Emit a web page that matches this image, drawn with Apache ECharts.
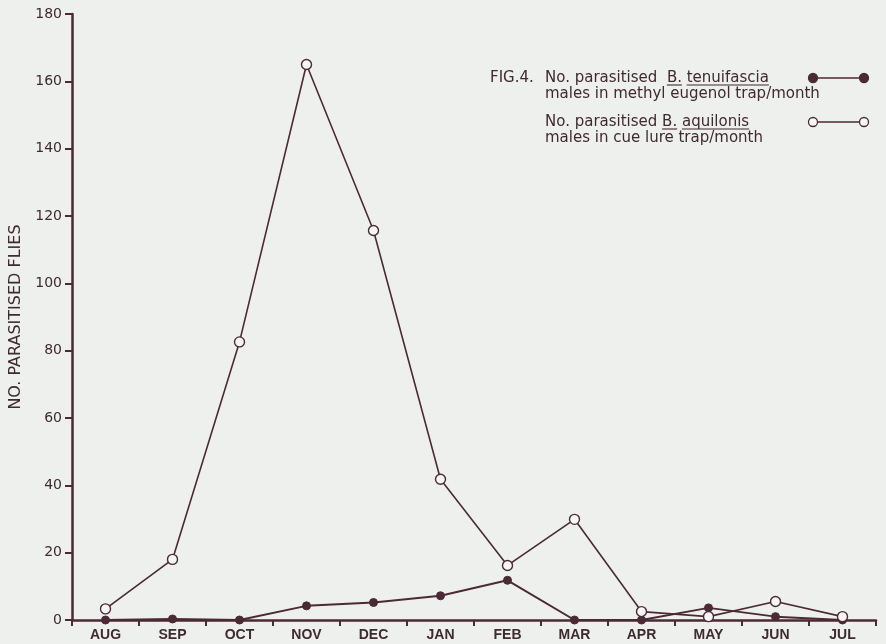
<!DOCTYPE html>
<html>
<head>
<meta charset="utf-8">
<script src="https://cdn.jsdelivr.net/npm/echarts@6/dist/echarts.min.js"></script>
<style>
html,body{margin:0;padding:0;background:#eef0ee;}
#chart{width:886px;height:644px;}
</style>
</head>
<body>
<div id="chart"></div>
<script>
const months = ['AUG','SEP','OCT','NOV','DEC','JAN','FEB','MAR','APR','MAY','JUN','JUL'];
const tenuifascia = [0, 0.3, 0, 4.2, 5.2, 7.2, 11.8, 0, 0, 3.6, 1, 0];
const aquilonis = [3.3, 18, 82.6, 165, 115.7, 41.8, 16.2, 29.9, 2.5, 1, 5.5, 1];
const yTicks = [0, 180, 20];

const lineColor = '#4a2a35';
const textColor = '#3e2a31';
const legendFamily = 'DejaVu Sans';
const legendSize = 15;

const ctx = document.createElement('canvas').getContext('2d');
ctx.font = legendSize + 'px "' + legendFamily + '"';
const w = s => ctx.measureText(s).width;

function legendLine(x, y, parts) {
  const els = [];
  let cx = x;
  parts.forEach(([t, u]) => {
    els.push({type:'text', x: cx, y: y, style:{text: t, fontSize: legendSize, fontFamily: legendFamily, fill: textColor, verticalAlign:'middle', align:'left'}});
    const tw = w(t);
    if (u) {
      els.push({type:'line', shape:{x1: cx, y1: y + 7, x2: cx + tw, y2: y + 7}, style:{stroke: textColor, lineWidth: 1.1}});
    }
    cx += tw;
  });
  return els;
}

function legendSymbol(y, filled) {
  return [
    {type:'line', shape:{x1:813, y1:y, x2:864, y2:y}, style:{stroke: lineColor, lineWidth: 1.6}},
    {type:'circle', shape:{cx:813, cy:y, r:4.5}, style:{fill: filled ? lineColor : '#f6f7f6', stroke: lineColor, lineWidth: 1.3}},
    {type:'circle', shape:{cx:864, cy:y, r:4.5}, style:{fill: filled ? lineColor : '#f6f7f6', stroke: lineColor, lineWidth: 1.3}}
  ];
}

const graphics = [].concat(
  legendLine(490, 78, [['FIG.4.', false]]),
  legendLine(545, 78, [['No. parasitised  ', false], ['B.', true], [' ', false], ['tenuifascia', true]]),
  legendLine(545, 94, [['males in methyl eugenol trap/month', false]]),
  legendLine(545, 122, [['No. parasitised ', false], ['B.', true], [' ', false], ['aquilonis', true]]),
  legendLine(545, 138, [['males in cue lure trap/month', false]]),
  legendSymbol(78, true),
  legendSymbol(122, false)
);

const chart = echarts.init(document.getElementById('chart'));
chart.setOption({
  backgroundColor: '#eef0ee',
  animation: false,
  grid: {left: 72, right: 10, top: 14, bottom: 24, containLabel: false},
  xAxis: {
    type: 'category',
    data: months,
    boundaryGap: true,
    axisLine: {lineStyle: {color: lineColor, width: 2.5}},
    axisTick: {show: true, inside: false, length: 6, lineStyle: {color: lineColor, width: 2}},
    axisLabel: {color: textColor, fontFamily: 'Liberation Sans', fontWeight: 'bold', fontSize: 14, margin: 8}
  },
  yAxis: {
    type: 'value',
    min: yTicks[0], max: yTicks[1], interval: yTicks[2],
    name: 'NO. PARASITISED FLIES',
    nameLocation: 'middle',
    nameGap: 48,
    nameTextStyle: {color: textColor, fontFamily: 'DejaVu Sans', fontSize: 16},
    splitLine: {show: false},
    axisLine: {show: true, lineStyle: {color: lineColor, width: 2.5}},
    axisTick: {show: true, inside: false, length: 7, lineStyle: {color: lineColor, width: 2}},
    axisLabel: {color: textColor, fontFamily: 'DejaVu Sans', fontSize: 14, margin: 10}
  },
  series: [
    {
      name: 'B. tenuifascia',
      type: 'line',
      data: tenuifascia,
      symbol: 'circle',
      symbolSize: 8,
      itemStyle: {color: lineColor, borderColor: lineColor, borderWidth: 1},
      lineStyle: {color: lineColor, width: 2},
      z: 2
    },
    {
      name: 'B. aquilonis',
      type: 'line',
      data: aquilonis,
      symbol: 'circle',
      symbolSize: 10,
      itemStyle: {color: '#f6f7f6', borderColor: lineColor, borderWidth: 1.4},
      lineStyle: {color: lineColor, width: 1.6},
      z: 3
    }
  ],
  graphic: graphics
});
</script>
</body>
</html>
